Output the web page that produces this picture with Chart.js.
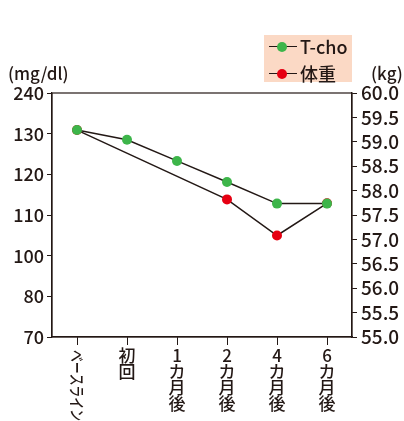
<!DOCTYPE html>
<html>
<head>
<meta charset="utf-8">
<script src="https://cdn.jsdelivr.net/npm/chart.js@4"></script>
<style>
  body { margin: 0; background: #fff; font-family: 'Noto Sans CJK JP', 'Noto Sans', sans-serif; font-weight: 500; color: #231815; }
  #wrap { position: relative; width: 404px; height: 421px; }
  #legend { position: absolute; left: 264px; top: 35px; width: 88px; height: 47px; background: #fbd9c5; }
  .item { position: absolute; left: 5px; height: 20px; display: flex; align-items: center; font-size: 18px; line-height: 20px; }
  .sym { position: relative; width: 28px; height: 20px; margin-right: 3px; }
  .sym:before { content: ''; position: absolute; left: 0; right: 0; top: 9.5px; border-top: 1.5px solid #231815; }
  .sym i { position: absolute; left: 7.5px; top: 5.5px; width: 10px; height: 10px; border-radius: 50%; }
  .unit { position: absolute; top: 62px; font-size: 17px; line-height: 22px; }
</style>
</head>
<body>
<div id="wrap">
  <canvas id="chart" width="404" height="421"></canvas>
  <div id="legend"></div>
  <div class="unit" style="left:8px">(mg/dl)</div>
  <div class="unit" style="left:371px">(kg)</div>
</div>
<script>
const categories = ['ベースライン', '初回', '1カ月後', '2カ月後', '4カ月後', '6カ月後'];
const seriesNames = ['T-cho', '体重'];
const tchoValues = [130.9, 128.5, 123.3, 118.1, 112.8, 112.8];   // mg/dl
const weightValues = [59.24, null, null, 57.82, 57.08, 57.74];  // kg
// left axis has breaks: the printed labels sit on evenly spaced positions
const leftTickValues = [80, 90, 100, 110, 120, 130, 140];
const leftTickLabels = ['70', '80', '100', '110', '120', '130', '240'];

const ink = '#231815';
const green = '#3db54a';
const red = '#e60012';

Chart.defaults.font.family = "'Noto Sans CJK JP', 'Noto Sans', sans-serif";
Chart.defaults.font.size = 18;
Chart.defaults.font.weight = 500;
Chart.defaults.color = ink;

// legend (html)
const legend = document.getElementById('legend');
[green, red].forEach((c, i) => {
  const div = document.createElement('div');
  div.className = 'item';
  div.style.top = (i === 0 ? 1 : 28) + 'px';
  div.innerHTML = `<span class="sym"><i style="background:${c}"></i></span>${seriesNames[i]}`;
  legend.appendChild(div);
});

// frame around plot area
const framePlugin = {
  id: 'frame',
  beforeDatasetsDraw(chart) {
    const { ctx, chartArea: a } = chart;
    ctx.save();
    ctx.strokeStyle = ink;
    ctx.lineWidth = 1.2;
    ctx.strokeRect(a.left, a.top, a.right - a.left, a.bottom - a.top);
    ctx.restore();
  }
};

// first category label is written rotated, the rest are stacked
const firstLabelPlugin = {
  id: 'firstLabel',
  afterDraw(chart) {
    const { ctx, scales: { x } } = chart;
    ctx.save();
    ctx.translate(x.getPixelForValue(0), x.top + 13);
    ctx.rotate(Math.PI / 2);
    ctx.scale(0.74, 1);
    ctx.font = "500 16px 'Noto Sans CJK JP'";
    ctx.fillStyle = ink;
    ctx.textAlign = 'left';
    ctx.textBaseline = 'middle';
    ctx.fillText(categories[0], 0, 0);
    ctx.restore();
  }
};

new Chart(document.getElementById('chart'), {
  type: 'line',
  data: {
    labels: categories,
    datasets: [
      {
        label: seriesNames[0], data: tchoValues, yAxisID: 'y',
        borderColor: ink, borderWidth: 1.5,
        pointBackgroundColor: green, pointBorderWidth: 0, pointRadius: 5
      },
      {
        label: seriesNames[1], data: weightValues, yAxisID: 'y1', spanGaps: true,
        borderColor: ink, borderWidth: 1.5,
        pointBackgroundColor: red, pointBorderWidth: 0, pointRadius: 5
      }
    ]
  },
  options: {
    responsive: false,
    animation: false,
    layout: { padding: { top: 93, left: 0, right: 0, bottom: 0 } },
    plugins: { legend: { display: false }, tooltip: { enabled: false } },
    scales: {
      x: {
        offset: true,
        grid: { drawOnChartArea: false, offset: false, tickLength: 8, color: ink },
        border: { color: ink, width: 1.2 },
        ticks: {
          autoSkip: false, maxRotation: 0, minRotation: 0, padding: 2,
          font: { size: 17, lineHeight: 0.95 },
          callback: (v, i) => i === 0 ? '' : categories[i].split('')
        },
        afterFit: s => { s.height = 84; }
      },
      y: {
        position: 'left', min: 80, max: 140,
        grid: { drawOnChartArea: false, tickLength: 5, color: ink },
        border: { color: ink, width: 1.2 },
        afterBuildTicks: s => { s.ticks = leftTickValues.map(v => ({ value: v })); },
        ticks: {
          autoSkip: false, padding: 3,
          callback: (v) => leftTickLabels[leftTickValues.indexOf(v)]
        },
        afterFit: s => { s.width = 52; }
      },
      y1: {
        position: 'right', min: 55, max: 60,
        grid: { drawOnChartArea: false, tickLength: 5, color: ink },
        border: { color: ink, width: 1.2 },
        ticks: { autoSkip: false, stepSize: 0.5, padding: 4, font: { size: 19 }, callback: v => v.toFixed(1) },
        afterFit: s => { s.width = 52; }
      }
    }
  },
  plugins: [framePlugin, firstLabelPlugin]
});
</script>
</body>
</html>
